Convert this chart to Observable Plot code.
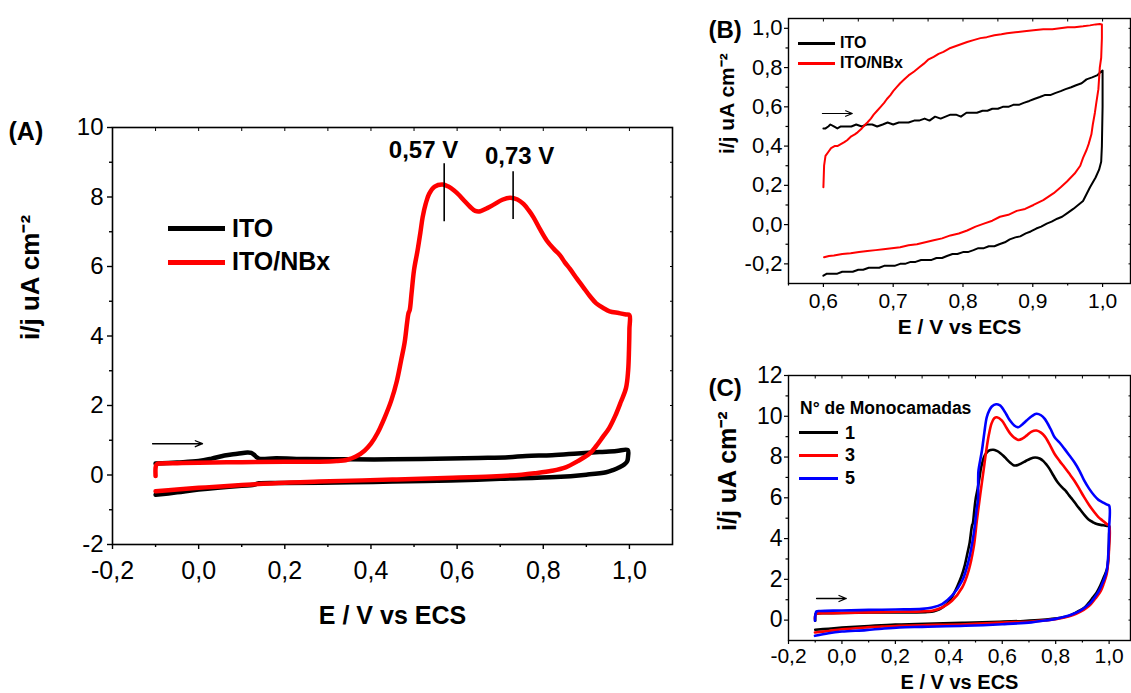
<!DOCTYPE html>
<html>
<head>
<meta charset="utf-8">
<script src="https://cdn.jsdelivr.net/npm/d3@7"></script>
<script src="https://cdn.jsdelivr.net/npm/@observablehq/plot@0.6"></script>
<style>
  html, body { margin: 0; padding: 0; background: #fff; }
  #wrap { position: relative; width: 1131px; height: 693px; overflow: hidden; background: #fff;
          font-family: "Liberation Sans", Arial, Helvetica, sans-serif; color: #000; }
  .panel { position: absolute; }
  .panel svg { overflow: visible; }
  .sw { position: absolute; }
  .lt { position: absolute; font-weight: bold; white-space: nowrap; }
</style>
</head>
<body>
<div id="wrap"></div>
<script>
// ---------------- DATA ----------------
// Panel A: ITO (bare), one scan  [E (V vs ECS), i (uA cm-2)]
const itoA = [
  [-0.1,0.33],[-0.05,0.36],[0.0,0.40],[0.03,0.47],[0.06,0.56],[0.09,0.61],[0.113,0.65],[0.122,0.64],
  [0.128,0.59],[0.134,0.52],[0.14,0.47],[0.18,0.48],[0.25,0.46],[0.35,0.45],[0.45,0.45],[0.55,0.47],
  [0.65,0.49],[0.72,0.51],[0.76,0.55],[0.82,0.57],[0.88,0.62],[0.93,0.66],[0.97,0.69],[0.996,0.72],
  [0.997,0.55],[0.995,0.40],[0.988,0.30],[0.977,0.22],[0.962,0.14],[0.946,0.08],[0.9,0.01],[0.829,-0.06],
  [0.7,-0.11],[0.585,-0.16],[0.45,-0.19],[0.355,-0.21],[0.2,-0.23],[0.14,-0.24],[0.125,-0.29],[0.1,-0.31],
  [0.0,-0.42],[-0.05,-0.5],[-0.1,-0.57]
];
// Panel A / Panel C (1 monolayer): ITO/NBx
const nbx1 = [
  [-0.1,-0.03],[-0.1,0.20],[-0.098,0.30],[-0.093,0.33],[-0.05,0.34],[0.0,0.35],[0.1,0.37],[0.2,0.38],
  [0.28,0.38],[0.32,0.40],[0.345,0.44],[0.365,0.53],[0.385,0.70],[0.40,0.90],[0.415,1.20],[0.432,1.66],
  [0.447,2.14],[0.46,2.7],[0.47,3.3],[0.478,3.8],[0.484,4.4],[0.487,4.65],[0.490,4.75],[0.494,5.2],
  [0.50,5.9],[0.508,6.45],[0.515,7.0],[0.520,7.42],[0.527,7.8],[0.535,8.09],[0.548,8.3],[0.566,8.36],
  [0.58,8.3],[0.593,8.19],[0.605,8.05],[0.616,7.90],[0.63,7.72],[0.642,7.6],[0.654,7.59],[0.67,7.68],
  [0.685,7.78],[0.705,7.92],[0.723,7.98],[0.74,7.93],[0.754,7.80],[0.766,7.62],[0.777,7.42],[0.792,7.08],
  [0.808,6.75],[0.825,6.5],[0.839,6.32],[0.85,6.12],[0.862,5.93],[0.878,5.65],[0.893,5.40],[0.908,5.15],
  [0.923,4.94],[0.94,4.80],[0.954,4.71],[0.975,4.66],[0.992,4.62],[1.0,4.6],
  [1.0,4.2],[0.999,3.6],[0.997,3.0],[0.992,2.5],[0.98,2.1],[0.967,1.7],[0.953,1.35],[0.938,1.09],
  [0.922,0.82],[0.907,0.61],[0.88,0.40],[0.852,0.22],[0.82,0.12],[0.78,0.05],[0.75,0.01],[0.68,-0.04],
  [0.59,-0.08],[0.45,-0.13],[0.28,-0.19],[0.2,-0.22],[0.124,-0.27],[0.05,-0.33],[0.0,-0.37],[-0.05,-0.42],
  [-0.1,-0.47]
];
// Panel C: 3 monolayers
const nbx3 = [
  [-0.101,0.05],[-0.098,0.30],[-0.09,0.33],[-0.033,0.34],[0.09,0.38],[0.214,0.41],[0.30,0.43],[0.338,0.46],
  [0.375,0.62],[0.412,0.95],[0.45,1.6],[0.474,2.42],[0.493,3.57],[0.505,4.88],[0.518,6.19],[0.53,7.33],
  [0.54,8.3],[0.55,9.1],[0.56,9.65],[0.57,9.9],[0.58,9.95],[0.598,9.8],[0.615,9.45],[0.63,9.15],
  [0.645,8.95],[0.66,8.84],[0.675,8.9],[0.691,9.05],[0.71,9.25],[0.728,9.3],[0.745,9.2],[0.76,9.0],
  [0.78,8.55],[0.796,8.15],[0.815,7.8],[0.833,7.5],[0.85,7.2],[0.87,6.84],[0.89,6.4],[0.907,6.02],
  [0.925,5.65],[0.945,5.29],[0.96,5.05],[0.976,4.88],[0.99,4.72],[1.0,4.63],
  [1.0,3.57],[0.996,2.8],[0.991,2.26],[0.98,1.8],[0.969,1.44],[0.95,1.08],[0.932,0.79],[0.915,0.6],
  [0.895,0.43],[0.865,0.25],[0.833,0.13],[0.8,0.05],[0.771,0.0],[0.709,-0.07],[0.6,-0.12],[0.462,-0.2],
  [0.3,-0.25],[0.215,-0.28],[0.15,-0.31],[0.09,-0.36],[0.0,-0.45],[-0.05,-0.53],[-0.101,-0.61]
];
// Panel C: 5 monolayers
const nbx5 = [
  [-0.101,-0.03],[-0.099,0.3],[-0.095,0.43],[-0.08,0.45],[0.0,0.47],[0.1,0.5],[0.2,0.52],[0.3,0.55],
  [0.338,0.62],[0.375,0.79],[0.412,1.2],[0.45,1.93],[0.474,2.91],[0.493,4.22],[0.505,5.53],[0.509,5.86],
  [0.510,7.0],[0.511,7.33],[0.524,8.32],[0.533,9.2],[0.542,9.95],[0.552,10.3],[0.561,10.48],[0.577,10.59],
  [0.59,10.55],[0.598,10.45],[0.615,10.1],[0.629,9.79],[0.645,9.55],[0.66,9.46],[0.675,9.6],[0.691,9.79],
  [0.71,10.0],[0.728,10.12],[0.745,10.05],[0.759,9.87],[0.78,9.4],[0.796,8.97],[0.815,8.7],[0.833,8.4],
  [0.85,8.1],[0.87,7.74],[0.89,7.3],[0.907,6.84],[0.925,6.45],[0.945,6.1],[0.96,5.9],[0.976,5.78],
  [0.99,5.68],[1.0,5.62],
  [1.0,4.5],[0.998,3.5],[0.991,2.42],[0.978,1.9],[0.962,1.44],[0.945,1.1],[0.932,0.87],[0.915,0.68],
  [0.895,0.49],[0.865,0.3],[0.833,0.16],[0.8,0.06],[0.771,0.0],[0.709,-0.11],[0.6,-0.2],[0.462,-0.28],
  [0.3,-0.33],[0.215,-0.36],[0.15,-0.42],[0.09,-0.49],[0.0,-0.56],[-0.05,-0.64],[-0.101,-0.77]
];
// Panel B: ITO, window 0.6 - 1.0 V
const itoB = [
  [0.600,0.49],[0.603,0.49],[0.607,0.50],[0.610,0.51],[0.615,0.50],[0.620,0.49],[0.625,0.50],[0.632,0.50],
  [0.640,0.50],[0.647,0.51],[0.655,0.50],[0.662,0.51],[0.670,0.51],[0.677,0.50],[0.685,0.51],[0.692,0.52],
  [0.700,0.51],[0.708,0.52],[0.715,0.52],[0.722,0.52],[0.730,0.53],[0.737,0.53],[0.745,0.54],[0.752,0.53],
  [0.760,0.55],[0.768,0.54],[0.775,0.55],[0.782,0.56],[0.790,0.56],[0.797,0.55],[0.805,0.57],[0.812,0.57],
  [0.820,0.57],[0.828,0.58],[0.835,0.58],[0.842,0.59],[0.850,0.59],[0.857,0.60],[0.865,0.60],[0.872,0.61],
  [0.880,0.61],[0.887,0.62],[0.895,0.63],[0.902,0.64],[0.910,0.65],[0.917,0.66],[0.925,0.66],[0.932,0.67],
  [0.940,0.68],[0.947,0.69],[0.955,0.70],[0.962,0.71],[0.970,0.72],[0.977,0.74],[0.985,0.75],[0.992,0.76],
  [0.998,0.78],[1.000,0.785],
  [1.000,0.60],[0.999,0.40],[0.998,0.32],[0.995,0.28],[0.990,0.24],[0.982,0.19],[0.972,0.12],[0.965,0.10],
  [0.958,0.08],[0.950,0.06],[0.942,0.04],[0.935,0.03],[0.927,0.015],[0.920,0.005],[0.912,-0.01],[0.905,-0.02],
  [0.897,-0.035],[0.890,-0.045],[0.882,-0.06],[0.875,-0.065],[0.867,-0.075],[0.860,-0.09],[0.852,-0.10],
  [0.845,-0.11],[0.837,-0.11],[0.830,-0.12],[0.822,-0.12],[0.815,-0.13],[0.807,-0.14],[0.800,-0.14],
  [0.792,-0.15],[0.785,-0.15],[0.777,-0.16],[0.770,-0.17],[0.762,-0.17],[0.755,-0.18],[0.747,-0.18],
  [0.740,-0.18],[0.732,-0.19],[0.725,-0.19],[0.717,-0.20],[0.710,-0.20],[0.702,-0.21],[0.695,-0.21],
  [0.687,-0.21],[0.680,-0.22],[0.672,-0.22],[0.665,-0.22],[0.657,-0.23],[0.650,-0.23],[0.642,-0.24],
  [0.635,-0.24],[0.627,-0.24],[0.620,-0.25],[0.612,-0.25],[0.605,-0.25],[0.600,-0.26]
];
// Panel B: ITO/NBx, window 0.6 - 1.0 V
const nbxB = [
  [0.600,0.19],[0.601,0.30],[0.603,0.35],[0.607,0.37],[0.611,0.39],[0.616,0.40],[0.620,0.40],[0.625,0.41],
  [0.630,0.42],[0.634,0.43],[0.640,0.45],[0.645,0.46],[0.649,0.47],[0.655,0.49],[0.660,0.51],[0.663,0.52],
  [0.668,0.54],[0.672,0.56],[0.677,0.58],[0.682,0.60],[0.687,0.62],[0.691,0.64],[0.696,0.66],[0.700,0.68],
  [0.705,0.70],[0.710,0.72],[0.716,0.74],[0.722,0.76],[0.730,0.78],[0.737,0.80],[0.744,0.82],[0.750,0.84],
  [0.758,0.855],[0.765,0.87],[0.772,0.88],[0.782,0.90],[0.790,0.91],[0.798,0.92],[0.806,0.93],[0.815,0.94],
  [0.825,0.95],[0.834,0.955],[0.845,0.965],[0.855,0.97],[0.863,0.975],[0.875,0.98],[0.888,0.985],[0.901,0.99],
  [0.915,0.995],[0.928,0.995],[0.939,1.0],[0.950,1.005],[0.960,1.005],[0.972,1.01],[0.982,1.015],[0.990,1.02],
  [0.996,1.022],[0.999,1.02],
  [0.999,0.95],[0.998,0.85],[0.996,0.80],[0.994,0.69],[0.991,0.62],[0.989,0.57],[0.986,0.51],[0.984,0.46],
  [0.980,0.41],[0.977,0.38],[0.972,0.34],[0.968,0.30],[0.960,0.26],[0.949,0.22],[0.940,0.19],[0.930,0.16],
  [0.915,0.125],[0.901,0.10],[0.889,0.08],[0.877,0.07],[0.865,0.05],[0.853,0.04],[0.842,0.02],[0.830,0.005],
  [0.818,-0.01],[0.806,-0.03],[0.794,-0.045],[0.782,-0.055],[0.770,-0.07],[0.758,-0.08],[0.746,-0.09],
  [0.734,-0.10],[0.722,-0.105],[0.710,-0.115],[0.698,-0.12],[0.686,-0.125],[0.675,-0.13],[0.663,-0.135],
  [0.651,-0.14],[0.639,-0.146],[0.627,-0.15],[0.615,-0.157],[0.608,-0.16],[0.601,-0.166]
];

// Peak annotations (panel A)
const peakE = [0.57, 0.73];
const peakTickTop = [8.96, 8.73];
const peakTickBottom = [7.29, 7.35];
const peakLabels = ["0,57 V", "0,73 V"];
const peakLabelE = [0.522, 0.745];
const peakLabelI = [9.11, 8.96];

// Scan-direction arrows (E from, E to, i)
const arrowA = [{e1: -0.107, e2: 0.009, i: 0.9}];
const arrowB = [{e1: 0.5986, e2: 0.6414, i: 0.566}];
const arrowC = [{e1: -0.095, e2: 0.016, i: 1.06}];

// Tick values
const ticksA = { xMajor: [-0.2,0,0.2,0.4,0.6,0.8,1.0], xMinor: [-0.1,0.1,0.3,0.5,0.7,0.9],
                 yMajor: [-2,0,2,4,6,8,10], yMinor: [-1,1,3,5,7,9] };
const ticksB = { xMajor: [0.6,0.7,0.8,0.9,1.0], xMinor: [0.55,0.65,0.75,0.85,0.95],
                 yMajor: [-0.2,0,0.2,0.4,0.6,0.8,1.0], yMinor: [-0.1,0.1,0.3,0.5,0.7,0.9] };
const ticksC = { xMajor: [-0.2,0,0.2,0.4,0.6,0.8,1.0], xMinor: [-0.1,0.1,0.3,0.5,0.7,0.9],
                 yMajor: [0,2,4,6,8,10,12], yMinor: [1,3,5,7,9,11] };

const legendA = ["ITO", "ITO/NBx"];
const legendC = ["1", "3", "5"];
const legendCTitle = "N° de Monocamadas";
const xTitle = "E / V vs ECS";
const yTitle = "i/j uA cm⁻²";

// ---------------- DRAWING ----------------
const FONT = '"Liberation Sans", Arial, Helvetica, sans-serif';
const comma1 = d => d.toFixed(1).replace(".", ",");
const intFmt = d => String(d);
const blank = () => "";

function axes(t, o) {
  const all = {x: t.xMajor.concat(t.xMinor), y: t.yMajor.concat(t.yMinor)};
  return [
    Plot.axisX(t.xMajor, {tickSize: o.major, tickPadding: o.xPad, tickFormat: o.xFmt, strokeWidth: o.sw, label: null}),
    Plot.axisX(t.xMinor, {tickSize: o.minor, tickFormat: blank, strokeWidth: o.sw, label: null}),
    Plot.axisY(t.yMajor, {tickSize: o.major, tickPadding: o.yPad, tickFormat: o.yFmt, strokeWidth: o.sw, label: null}),
    Plot.axisY(t.yMinor, {tickSize: o.minor, tickFormat: blank, strokeWidth: o.sw, label: null}),
    Plot.axisX(all.x, {anchor: "top", tickSize: -o.minor, tickFormat: blank, strokeWidth: 1, label: null}),
    Plot.axisY(all.y, {anchor: "right", tickSize: -o.minor, tickFormat: blank, strokeWidth: 1, label: null}),
    Plot.frame({stroke: "#000", strokeWidth: o.frame})
  ];
}

function titles(o) {
  return [
    Plot.text([xTitle], {text: d => d, frameAnchor: "bottom", dy: o.xdy, lineAnchor: "bottom", fontWeight: "bold", fontSize: o.xs}),
    Plot.text([yTitle], {text: d => d, frameAnchor: "left", rotate: -90, dx: o.ydx, dy: o.ydy, fontWeight: "bold", fontSize: o.ys}),
    Plot.text([o.tag], {text: d => d, frameAnchor: "top-left", textAnchor: "start", lineAnchor: "bottom", dx: o.tdx, dy: o.tdy, fontWeight: "bold", fontSize: o.ts})
  ];
}

// set tick-label font sizes after rendering (x and y separately)
function tickFonts(svg, xs, ys) {
  svg.querySelectorAll("g[aria-label]").forEach(g => {
    const a = g.getAttribute("aria-label");
    if (a.indexOf("tick label") < 0) return;
    const fs = a.startsWith("x") ? xs : ys;
    g.setAttribute("font-size", fs);
    g.style.fontSize = fs + "px";
    g.querySelectorAll("text").forEach(t => { t.setAttribute("font-size", fs); t.style.fontSize = fs + "px"; });
  });
}

const wrap = document.getElementById("wrap");
function place(svg, left, top) {
  const d = document.createElement("div");
  d.className = "panel";
  d.style.left = left + "px";
  d.style.top = top + "px";
  d.appendChild(svg);
  wrap.appendChild(d);
}
const line = (arr, color, w, curve) => Plot.line(arr, {x: d => d[0], y: d => d[1], stroke: color, strokeWidth: w,
  curve, strokeLinejoin: "round", strokeLinecap: "round"});
const arrow = (arr, w) => Plot.arrow(arr, {x1: "e1", x2: "e2", y1: "i", y2: "i", stroke: "#000", strokeWidth: w, headLength: 9, headAngle: 45});

// Panel A
const plotA = Plot.plot({
  width: 700, height: 540,
  marginLeft: 112, marginTop: 27, marginRight: 28, marginBottom: 96,
  x: {domain: [-0.2, 1.1]}, y: {domain: [-2, 10]},
  style: {fontFamily: FONT, fontSize: "25px", color: "#000", background: "transparent", overflow: "visible"},
  marks: [
    line(itoA, "#000", 4.5, "catmull-rom"),
    line(nbx1, "#ff0000", 4.5, "catmull-rom"),
    arrow(arrowA, 1.3),
    Plot.ruleX(peakE, {x: d => d, y1: (d, i) => peakTickBottom[i], y2: (d, i) => peakTickTop[i], stroke: "#000", strokeWidth: 1.6}),
    Plot.text(peakLabels, {x: (d, i) => peakLabelE[i], y: (d, i) => peakLabelI[i], text: d => d, lineAnchor: "bottom", fontWeight: "bold", fontSize: 24}),
    ...axes(ticksA, {major: 5, minor: 3, xPad: 12, yPad: 4, xFmt: comma1, yFmt: intFmt, sw: 1.4, frame: 1.6}),
    ...titles({xdy: 79, xs: 25, ydx: -82, ydy: 4, ys: 26, tag: "(A)", tdx: -104, tdy: 12, ts: 25})
  ]
});
tickFonts(plotA, 25, 24);
place(plotA, 0, 100);

// Panel B
const plotB = Plot.plot({
  width: 431, height: 340,
  marginLeft: 88, marginTop: 18, marginRight: 1, marginBottom: 57,
  x: {domain: [0.55, 1.04]}, y: {domain: [-0.3, 1.05]},
  style: {fontFamily: FONT, fontSize: "21px", color: "#000", background: "transparent", overflow: "visible"},
  marks: [
    line(itoB, "#000", 2, "linear"),
    line(nbxB, "#ff0000", 2, "linear"),
    arrow(arrowB, 1.2),
    ...axes(ticksB, {major: 4, minor: 2.5, xPad: 6, yPad: 2, xFmt: comma1, yFmt: comma1, sw: 1.2, frame: 1.4}),
    ...titles({xdy: 50, xs: 21, ydx: -61, ydy: 3, ys: 21, tag: "(B)", tdx: -80, tdy: 19, ts: 24})
  ]
});
tickFonts(plotB, 21, 22);
place(plotB, 700, 0);

// Panel C
const plotC = Plot.plot({
  width: 431, height: 333,
  marginLeft: 88, marginTop: 15, marginRight: 1, marginBottom: 53,
  x: {domain: [-0.2, 1.08]}, y: {domain: [-1, 12]},
  style: {fontFamily: FONT, fontSize: "22px", color: "#000", background: "transparent", overflow: "visible"},
  marks: [
    line(nbx1, "#000", 2.6, "catmull-rom"),
    line(nbx3, "#ff0000", 2.6, "catmull-rom"),
    line(nbx5, "#0000ff", 2.6, "catmull-rom"),
    arrow(arrowC, 1.3),
    ...axes(ticksC, {major: 4, minor: 2.5, xPad: 4, yPad: 2, xFmt: comma1, yFmt: intFmt, sw: 1.2, frame: 1.4}),
    ...titles({xdy: 48, xs: 20, ydx: -61, ydy: 23, ys: 25, tag: "(C)", tdx: -80, tdy: 20, ts: 24})
  ]
});
tickFonts(plotC, 21, 23);
place(plotC, 700, 360);

// ---------------- LEGENDS (HTML overlays) ----------------
function swatch(left, cy, w, h, color) {
  const s = document.createElement("div");
  s.className = "sw";
  Object.assign(s.style, {left: left + "px", top: (cy - h / 2) + "px", width: w + "px", height: h + "px", background: color});
  wrap.appendChild(s);
}
function label(text, left, baseline, fs) {
  const t = document.createElement("div");
  t.className = "lt";
  t.textContent = text;
  Object.assign(t.style, {left: left + "px", top: (baseline - 0.8465 * fs) + "px", fontSize: fs + "px", lineHeight: fs + "px"});
  wrap.appendChild(t);
}
const colA = ["#000", "#ff0000"];
legendA.forEach((name, i) => {
  swatch(168, 228 + i * 34, 57, 5, colA[i]);
  label(name, 232, 237 + i * 33, 25);
  swatch(798, 43 + i * 20, 37, 3, colA[i]);
  label(name, 840, 49 + i * 20, 16);
});
label(legendCTitle, 800, 415, 17.5);
const colC = ["#000", "#ff0000", "#0000ff"];
legendC.forEach((name, i) => {
  swatch(799, 432.7 + i * 22.8, 39, 3.5, colC[i]);
  label(name, 845, 439 + i * 22.5, 18);
});
</script>
</body>
</html>
